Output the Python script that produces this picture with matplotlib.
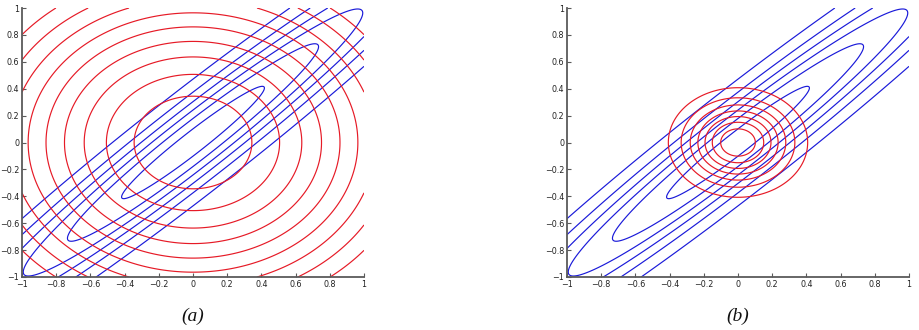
import numpy as np
import matplotlib
matplotlib.use("Agg")
import matplotlib.pyplot as plt

# ---- data ----
# blue: correlated Gaussian (same in both panels)
blue_mean = [0.0, 0.0]
blue_cov = [[1.0, 0.97], [0.97, 1.0]]
blue_levels = [0.1, 0.2, 0.3, 0.4, 0.5, 0.6]

# red (a): broad isotropic Gaussian
red_a_mean = [0.0, 0.0]
red_a_cov = [[1.0, 0.0], [0.0, 1.0]]
red_a_levels = [0.07, 0.08, 0.09, 0.10, 0.11, 0.12, 0.13, 0.14, 0.15]

# red (b): narrow isotropic Gaussian
red_b_mean = [0.0, 0.0]
red_b_cov = [[0.04, 0.0], [0.0, 0.04]]
red_b_levels = [0.5, 1.0, 1.5, 2.0, 2.5, 3.0, 3.5]

tick_values = [-1, -0.8, -0.6, -0.4, -0.2, 0, 0.2, 0.4, 0.6, 0.8, 1]
tick_labels = ["\u22121", "\u22120.8", "\u22120.6", "\u22120.4", "\u22120.2", "0",
               "0.2", "0.4", "0.6", "0.8", "1"]
panel_labels = ["(a)", "(b)"]


def gauss_pdf(X, Y, mean, cov):
    cov = np.asarray(cov, float)
    inv = np.linalg.inv(cov)
    dx = X - mean[0]
    dy = Y - mean[1]
    q = inv[0, 0] * dx * dx + 2 * inv[0, 1] * dx * dy + inv[1, 1] * dy * dy
    return np.exp(-0.5 * q) / (2 * np.pi * np.sqrt(np.linalg.det(cov)))


g = np.linspace(-1, 1, 601)
X, Y = np.meshgrid(g, g)
Zb = gauss_pdf(X, Y, blue_mean, blue_cov)
Zra = gauss_pdf(X, Y, red_a_mean, red_a_cov)
Zrb = gauss_pdf(X, Y, red_b_mean, red_b_cov)

W, H = 920, 330
fig = plt.figure(figsize=(W / 100, H / 100), dpi=100)

axes_px = [(22, 8, 364, 277), (567, 8, 909, 277)]
reds = [(Zra, red_a_levels), (Zrb, red_b_levels)]

spine_col = "#5a5a5a"
for i, (x0, y0, x1, y1) in enumerate(axes_px):
    ax = fig.add_axes([x0 / W, 1 - y1 / H, (x1 - x0) / W, (y1 - y0) / H])
    Zr, lv = reds[i]
    ax.contour(X, Y, Zb, levels=blue_levels, colors=[(0.1, 0.1, 0.85)], linewidths=0.85)
    ax.contour(X, Y, Zr, levels=lv, colors=[(0.9, 0.1, 0.15)], linewidths=0.85)
    ax.set_xlim(-1, 1)
    ax.set_ylim(-1, 1)
    ax.set_xticks(tick_values)
    ax.set_xticklabels(tick_labels)
    ax.set_yticks(tick_values)
    ax.set_yticklabels(tick_labels)
    for s in ("top", "right"):
        ax.spines[s].set_visible(False)
    for s in ("left", "bottom"):
        ax.spines[s].set_color(spine_col)
        ax.spines[s].set_linewidth(1.3)
    ax.tick_params(direction="in", length=3, width=0.8, color=spine_col,
                   labelsize=5.8, labelcolor="#222222", pad=2)
    cx = (x0 + x1) / 2 / W
    fig.text(cx, 1 - 316 / H, panel_labels[i], ha="center", va="center",
             fontsize=14, style="italic", family="Liberation Serif", color="#111111")

fig.savefig("out.png", dpi=100)
